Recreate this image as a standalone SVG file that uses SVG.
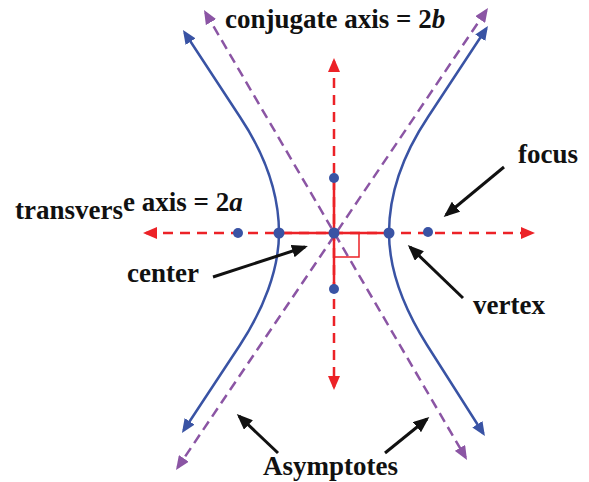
<svg xmlns="http://www.w3.org/2000/svg" width="589" height="482" viewBox="0 0 589 482">
<style>
.lbl{font-family:"Liberation Serif","Times New Roman",serif;font-weight:bold;font-size:27px;fill:#111}
.it{font-style:italic}
.ax{fill:none;stroke:#ec2227;stroke-width:2.5}
.axd{stroke-dasharray:10 7}
.asy{fill:none;stroke:#8b55a4;stroke-width:2.5;stroke-dasharray:10 6}
.br{fill:none;stroke:#3953a4;stroke-width:2.5}
.call{fill:none;stroke:#111;stroke-width:3}
.dot{fill:#3953a4}
</style>
<defs>
<marker id="mr" viewBox="0 0 14 12" markerWidth="14" markerHeight="12" refX="11" refY="6" orient="auto-start-reverse" markerUnits="userSpaceOnUse"><path d="M0,0 L14,6 L0,12 z" fill="#ec2227"/></marker>
<marker id="mp" viewBox="0 0 14 12" markerWidth="14" markerHeight="12" refX="11" refY="6" orient="auto-start-reverse" markerUnits="userSpaceOnUse"><path d="M0,0 L14,6 L0,12 z" fill="#8b55a4"/></marker>
<marker id="mb" viewBox="0 0 14 12" markerWidth="14" markerHeight="12" refX="11" refY="6" orient="auto-start-reverse" markerUnits="userSpaceOnUse"><path d="M0,0 L14,6 L0,12 z" fill="#3953a4"/></marker>
<marker id="mk" viewBox="0 0 16 13" markerWidth="16" markerHeight="13" refX="13" refY="6.5" orient="auto" markerUnits="userSpaceOnUse"><path d="M0,0 L16,6.5 L0,13 z" fill="#111"/></marker>
</defs>

<g id="connectors">
  <g id="asymptotes">
    <path class="asy" d="M205.5,12.6 L465.5,457.4" marker-start="url(#mp)" marker-end="url(#mp)"/>
    <path class="asy" d="M486.3,10.5 L177.7,467.5" marker-start="url(#mp)" marker-end="url(#mp)"/>
  </g>
  <g id="axes">
    <path class="ax axd" d="M146,233 L532,233" marker-start="url(#mr)" marker-end="url(#mr)"/>
    <path class="ax axd" d="M334,61 L334,387" marker-start="url(#mr)" marker-end="url(#mr)"/>
    <path class="ax" d="M280,233 L390,233"/>
    <path class="ax" d="M334,178 L334,290"/>
    <path d="M334,257 L359,257 L359,233" fill="none" stroke="#ec2227" stroke-width="1.5"/>
  </g>
  <g id="branches">
    <path class="br" d="M184.6,32.5 L240,117 C262,150 279,190 279,233 C279,270 263,310 240,345 L183.6,430.5" marker-start="url(#mb)" marker-end="url(#mb)"/>
    <path class="br" d="M486.3,28.5 L428,117 C406,150 389,190 389,233 C389,270 405,310 427,345 L483.3,433.5" marker-start="url(#mb)" marker-end="url(#mb)"/>
  </g>
  <g id="callouts">
    <path class="call" d="M213,277 L305,247" marker-end="url(#mk)"/>
    <path class="call" d="M504,167 L446,215" marker-end="url(#mk)"/>
    <path class="call" d="M463,298 L410,247" marker-end="url(#mk)"/>
    <path class="call" d="M278,453 L239,416" marker-end="url(#mk)"/>
    <path class="call" d="M385,453 L427,419" marker-end="url(#mk)"/>
  </g>
</g>

<g id="points">
  <circle id="left-focus" class="dot" cx="238" cy="233" r="5"/>
  <circle id="left-vertex" class="dot" cx="279" cy="233" r="5.5"/>
  <circle id="center-pt" class="dot" cx="334" cy="233" r="5.5"/>
  <circle id="right-vertex" class="dot" cx="389" cy="233" r="5.5"/>
  <circle id="right-focus" class="dot" cx="428" cy="232" r="5"/>
  <circle id="top-co" class="dot" cx="334" cy="178" r="5"/>
  <circle id="bottom-co" class="dot" cx="334" cy="289" r="5"/>
</g>

<g id="label-conjugate"><text class="lbl" x="225" y="28">conjugate axis = 2<tspan class="it">b</tspan></text></g>
<g id="label-transverse"><text class="lbl" x="15" y="219">transvers</text><text class="lbl" x="123" y="211">e axis = 2<tspan class="it">a</tspan></text></g>
<g id="label-focus"><text class="lbl" x="518" y="163">focus</text></g>
<g id="label-center"><text class="lbl" x="127" y="282">center</text></g>
<g id="label-vertex"><text class="lbl" x="473" y="314">vertex</text></g>
<g id="label-asymptotes"><text class="lbl" x="263" y="475">Asymptotes</text></g>
</svg>
